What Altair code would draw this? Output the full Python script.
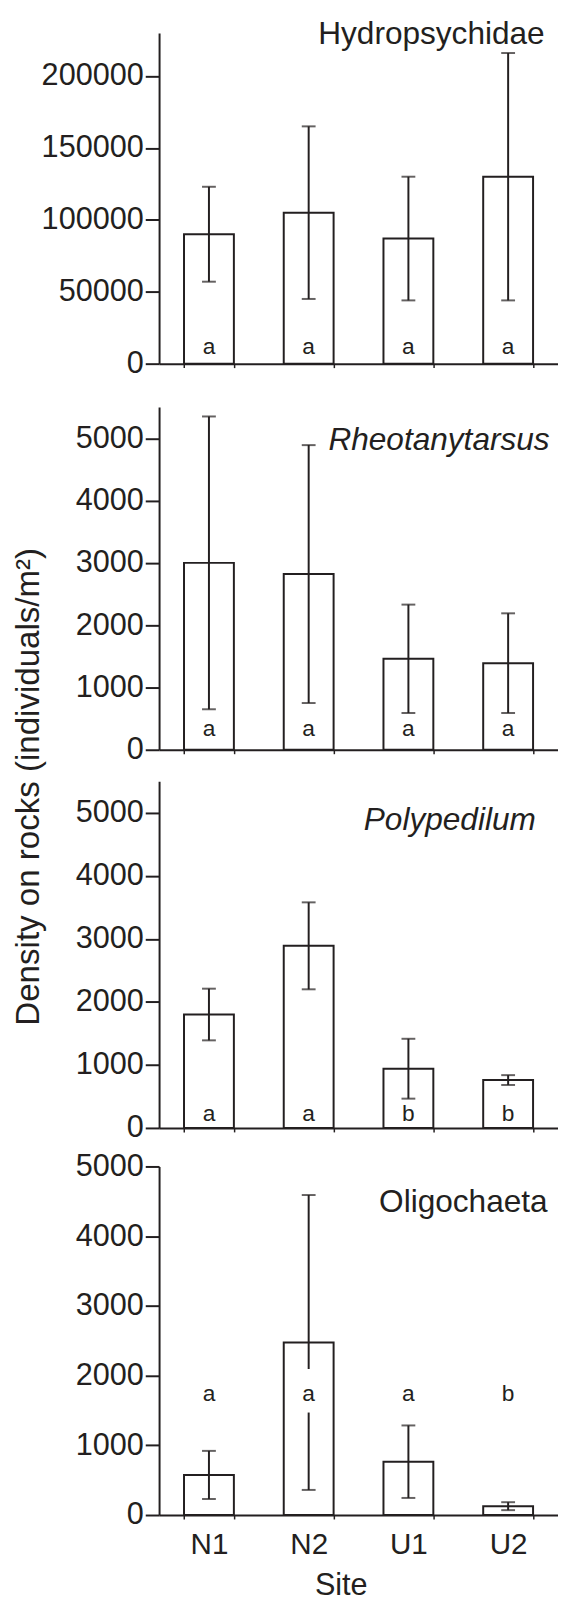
import altair as alt
import pandas as pd

# ---------------- data ----------------
sites = ["N1", "N2", "U1", "U2"]

hydro_mean = [90000, 105000, 87000, 130000]
hydro_err = [33000, 60000, 43000, 86000]
hydro_letters = ["a", "a", "a", "a"]

rheo_mean = [3000, 2820, 1460, 1390]
rheo_err = [2350, 2070, 870, 800]
rheo_letters = ["a", "a", "a", "a"]

poly_mean = [1800, 2890, 940, 760]
poly_err = [410, 690, 475, 78]
poly_letters = ["a", "a", "b", "b"]

oligo_mean = [575, 2475, 765, 127]
oligo_err = [345, 2115, 520, 57]
oligo_letters = ["a", "a", "a", "b"]

# letter heights (data units) per panel
hydro_letter_y = 7000
rheo_letter_y = 220
poly_letter_y = 110
oligo_letter_y = 1640

# panel name heights (data units, baseline)
hydro_name_y = 222400
rheo_name_y = 4810
poly_name_y = 4730
oligo_name_y = 4350

# white gap behind the N2 letter in the Oligochaeta panel
gap_sites = ["N2"]
gap_lo = [1470]
gap_hi = [2095]

hydro_ticks = [0, 50000, 100000, 150000, 200000]
count_ticks = [0, 1000, 2000, 3000, 4000, 5000]

# ---------------- style ----------------
C = "#231f20"
F = "Liberation Sans"
W = 404


def panel(name, italic, name_y, name_dx, means, errs, letters, letter_y, ymax, ticks,
          height, show_x=False, y_title=False, gap=None):
    df = pd.DataFrame({"site": sites, "mean": means, "err": errs,
                       "letter": letters, "ly": [letter_y] * len(sites)})
    base = alt.Chart(df)

    x_axis_kw = dict(domainColor=C, domainWidth=2, tickColor=C, tickWidth=1.5,
                     tickSize=4, tickBand="extent", grid=False, labelAngle=0)
    if show_x:
        x_axis_kw.update(labels=True, labelFontSize=30, labelFont=F, labelColor=C,
                         labelPadding=11, title="Site", titleFontSize=31, titleFont=F,
                         titleColor=C, titleFontWeight="normal", titleX=184,
                         titleY=81, titleAlign="center", titleBaseline="alphabetic")
    else:
        x_axis_kw.update(labels=False, title=None)
    x_axis = alt.Axis(**x_axis_kw)
    xs = alt.Scale(paddingInner=0.5, paddingOuter=0.25)

    y_axis_kw = dict(values=ticks, format="d", domainColor=C, domainWidth=2,
                     tickColor=C, tickWidth=2, tickSize=14, labelFontSize=31,
                     labelFont=F, labelColor=C, labelPadding=2, grid=False)
    if y_title:
        y_axis_kw.update(title="Density on rocks (individuals/m²)", titleFontSize=33.5,
                         titleFont=F, titleColor=C, titleFontWeight="normal",
                         titleX=-132, titleY=384, titleAngle=270,
                         titleAlign="center", titleBaseline="middle")
    else:
        y_axis_kw.update(title=None)
    y_axis = alt.Axis(**y_axis_kw)
    ys = alt.Scale(domain=[0, ymax], nice=False, zero=True)

    X = alt.X("site:N", sort=sites, scale=xs, axis=x_axis)

    bars = base.mark_bar(fill="white", stroke=C, strokeWidth=2).encode(
        x=X, y=alt.Y("mean:Q", scale=ys, axis=y_axis))

    eb = base.transform_calculate(lo="datum.mean - datum.err",
                                  hi="datum.mean + datum.err")
    rule = eb.mark_rule(color=C, strokeWidth=2).encode(
        x=X, y=alt.Y("lo:Q", scale=ys, axis=y_axis), y2="hi:Q")
    caps = eb.transform_fold(["lo", "hi"], as_=["k", "v"]).mark_tick(
        color=C, size=14, thickness=2, orient="horizontal").encode(
        x=X, y=alt.Y("v:Q", scale=ys, axis=y_axis))

    layers = [bars, rule, caps]
    if gap is not None:
        gdf = pd.DataFrame({"site": gap[0], "lo": gap[1], "hi": gap[2]})
        layers.append(alt.Chart(gdf).mark_bar(width=12, fill="white", strokeWidth=0).encode(
            x=X, y=alt.Y("lo:Q", scale=ys, axis=y_axis), y2="hi:Q"))

    text = base.mark_text(fontSize=23, font=F, color=C, baseline="alphabetic",
                          align="center").encode(
        x=X, y=alt.Y("ly:Q", scale=ys, axis=y_axis), text="letter:N")
    layers.append(text)

    ndf = pd.DataFrame({"site": [sites[-1]], "name": [name], "ny": [name_y]})
    label = alt.Chart(ndf).mark_text(
        fontSize=32, font=F, color=C, baseline="alphabetic", align="right",
        dx=name_dx, fontStyle="italic" if italic else "normal").encode(
        x=X, y=alt.Y("ny:Q", scale=ys, axis=y_axis), text="name:N")
    layers.append(label)

    return alt.layer(*layers).properties(width=W, height=height)


p1 = panel("Hydropsychidae", False, hydro_name_y, 37, hydro_mean, hydro_err,
           hydro_letters, hydro_letter_y, 230000, hydro_ticks, 335)
p2 = panel("Rheotanytarsus", True, rheo_name_y, 42, rheo_mean, rheo_err,
           rheo_letters, rheo_letter_y, 5500, count_ticks, 347, y_title=True)
p3 = panel("Polypedilum", True, poly_name_y, 28, poly_mean, poly_err,
           poly_letters, poly_letter_y, 5500, count_ticks, 351)
p4 = panel("Oligochaeta", False, oligo_name_y, 40, oligo_mean, oligo_err,
           oligo_letters, oligo_letter_y, 5000, count_ticks, 353, show_x=True,
           gap=(gap_sites, gap_lo, gap_hi))

inner = alt.vconcat(p3, p4, spacing=39, bounds="flush")
mid = alt.vconcat(p2, inner, spacing=32, bounds="flush")
chart = alt.vconcat(p1, mid, spacing=44, bounds="flush").properties(
    padding={"left": 4, "top": 0, "right": 0, "bottom": 0}
).configure_view(stroke=None)

chart.save("out.html", embed_options={"renderer": "svg", "actions": False})
